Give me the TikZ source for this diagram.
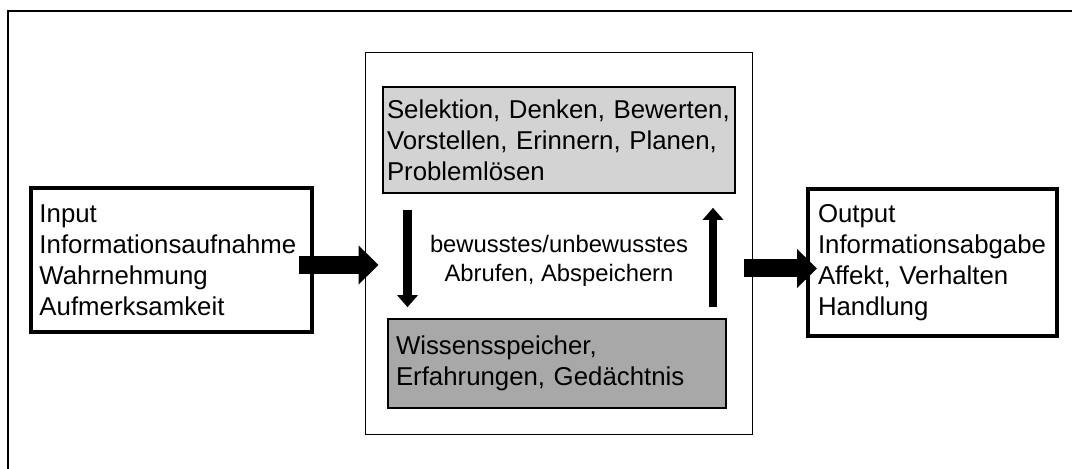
\documentclass[tikz,border=0pt]{standalone}
\usepackage{fontspec}
\setmainfont{Liberation Sans}
\usetikzlibrary{arrows.meta}

\definecolor{thinkgray}{RGB}{211,211,211}
\definecolor{storegray}{RGB}{168,168,168}
\newcommand\boxfont{\fontsize{12.9}{15.5}\selectfont\hyphenpenalty=10000\relax}

\begin{document}
\begin{tikzpicture}[x=0.5pt, y=-0.5pt,
  iobox/.style={draw, line width=2pt, inner sep=0pt, align=left, font=\boxfont},
  procbox/.style={draw, line width=0.8pt, inner sep=0pt, align=left, font=\boxfont},
  bigarrow/.style={line width=9pt, -{Triangle[width=19pt, length=10pt]}},
  smallarrow/.style={line width=4.25pt, -{Triangle[width=10pt, length=6pt]}}]

\useasboundingbox (0,0) rectangle (1072,469);

% frame
\draw [line width=0.8pt] (1072,11) -| (8,469);

% outer nodes
\node [iobox, minimum width=140.5pt, minimum height=72pt, text width=132pt]
  (input) at (171.5,260)
  {Input\\Informationsaufnahme\\Wahrnehmung\\Aufmerksamkeit};
\node [iobox, minimum width=124.5pt, minimum height=73.5pt, text width=114.5pt]
  (output) at (932.5,262.5)
  {Output\\Informationsabgabe\\Affekt, Verhalten\\Handlung};

% processing
\node [draw, line width=0.5pt, minimum width=193.5pt, minimum height=191pt]
  (mid) at (558.5,244) {};
\node [procbox, fill=thinkgray, minimum width=176pt, minimum height=53pt, text width=172pt]
  (think) at (559,140)
  {Selektion, Denken, Bewerten,\\Vorstellen, Erinnern, Planen,\\Problemlösen};
\node [procbox, fill=storegray, minimum width=169pt, minimum height=44.5pt, text width=161pt]
  (store) at (557,363.5)
  {Wissensspeicher,\\Erfahrungen, Gedächtnis};
\node [align=center, font=\fontsize{11.9}{14.5}\selectfont] (retrieve) at (559,261)
  {bewusstes/unbewusstes\\Abrufen, Abspeichern};

% arrows
\draw [bigarrow] ([shift={(-15,5)}]input.east) -- ([shift={(14,21)}]mid.west);
\draw [bigarrow] ([shift={(-9,24.5)}]mid.east) -- ([shift={(11,6)}]output.west);
\draw [smallarrow] ([shift={(-151.5,16)}]think.south) -- ([shift={(-149.5,-11)}]store.north);
\draw [smallarrow] ([shift={(156,-11)}]store.north) -- ([shift={(154,14)}]think.south);

\end{tikzpicture}
\end{document}
